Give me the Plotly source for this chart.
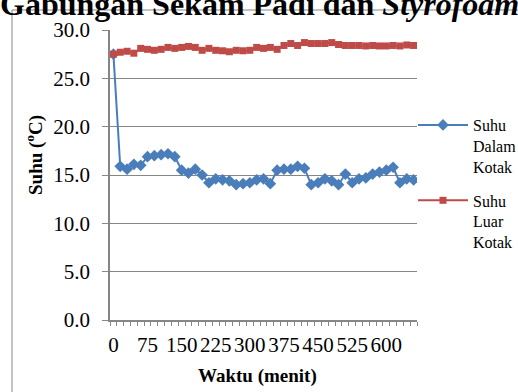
import plotly.graph_objects as go

# ---- data ----
waktu = [0, 15, 30, 45, 60, 75, 90, 105, 120, 135, 150, 165, 180, 195, 210,
         225, 240, 255, 270, 285, 300, 315, 330, 345, 360, 375, 390, 405, 420,
         435, 450, 465, 480, 495, 510, 525, 540, 555, 570, 585, 600, 615, 630,
         645, 660]
suhu_dalam = [27.5, 15.9, 15.6, 16.1, 16.0, 16.9, 17.0, 17.1, 17.2, 16.9,
              15.5, 15.2, 15.6, 15.0, 14.2, 14.6, 14.5, 14.4, 14.0, 14.1,
              14.2, 14.5, 14.6, 14.1, 15.5, 15.6, 15.6, 15.9, 15.7, 14.0,
              14.2, 14.6, 14.4, 14.0, 15.1, 14.2, 14.6, 14.7, 15.1, 15.3,
              15.5, 15.8, 14.2, 14.6, 14.5]
suhu_luar = [27.5, 27.7, 27.8, 27.6, 28.1, 28.0, 27.9, 28.0, 28.2, 28.1,
             28.2, 28.3, 28.2, 27.9, 28.1, 27.9, 27.85, 27.75, 27.9, 27.85,
             27.9, 28.2, 28.1, 28.2, 28.0, 28.4, 28.6, 28.4, 28.7, 28.6,
             28.6, 28.6, 28.7, 28.5, 28.4, 28.4, 28.4, 28.35, 28.4, 28.35,
             28.35, 28.4, 28.35, 28.45, 28.4]
x_tick_vals = [0, 75, 150, 225, 300, 375, 450, 525, 600]
y_tick_vals = [0, 5, 10, 15, 20, 25, 30]
nama_dalam = "Suhu<br>Dalam<br>Kotak"
nama_luar = "Suhu<br>Luar<br>Kotak"
judul = "<b>Gabungan Sekam Padi dan <i>Styrofoam</i></b>"
judul_x = "<b>Waktu (menit)</b>"
judul_y = "<b>Suhu (<sup>o</sup>C)</b>"

# ---- layout geometry ----
FONT = "Liberation Serif"
GRAY = "#868686"
W, H = 518, 392
L, R, T, B = 110, 101, 30, 72
pw, ph = W - L - R, H - T - B


def px(x):
    return (x - L) / pw


def py(y):
    return (H - B - y) / ph


step = waktu[1] - waktu[0]
x_range = [waktu[0] - step / 2, waktu[-1] + step / 2]
minor_vals = [waktu[0] - step / 2 + k * step for k in range(len(waktu) + 1)]

fig = go.Figure()
fig.add_trace(go.Scatter(
    x=waktu, y=suhu_dalam, name=nama_dalam, mode="lines+markers",
    legendgroup="a",
    line=dict(color="#4A7EBB", width=2),
    marker=dict(symbol="diamond", size=9, color="#4A7EBB"),
))
fig.add_trace(go.Scatter(
    x=waktu, y=suhu_luar, name=nama_luar, mode="lines+markers",
    legendgroup="b",
    line=dict(color="#BE4B48", width=2),
    marker=dict(symbol="square", size=7, color="#BE4B48"),
))

fig.update_layout(
    width=W, height=H,
    margin=dict(l=L, r=R, t=T, b=B, autoexpand=False),
    paper_bgcolor="white", plot_bgcolor="white",
    font=dict(family=FONT, color="black"),
    showlegend=True,
    legend=dict(
        x=px(413), y=py(108), xanchor="left", yanchor="top",
        font=dict(family=FONT, size=16, color="black"),
        bgcolor="rgba(0,0,0,0)", itemwidth=50, valign="top",
        traceorder="grouped", tracegroupgap=10,
    ),
    xaxis=dict(
        range=x_range, tickmode="array", tickvals=x_tick_vals,
        ticktext=[str(v) for v in x_tick_vals],
        ticks="", showgrid=False, zeroline=False,
        showline=True, linecolor=GRAY, linewidth=1.5,
        tickfont=dict(family=FONT, size=21, color="black"),
        ticklabelstandoff=5,
        minor=dict(tickmode="array", tickvals=minor_vals, ticks="outside",
                   ticklen=4, tickcolor=GRAY, tickwidth=1, showgrid=False),
    ),
    yaxis=dict(
        range=[0, 30], tickmode="array", tickvals=y_tick_vals,
        ticktext=[f"{v:.1f}" for v in y_tick_vals],
        ticks="outside", ticklen=6, tickcolor=GRAY, tickwidth=1,
        showgrid=True, gridcolor=GRAY, gridwidth=1, zeroline=False,
        showline=True, linecolor=GRAY, linewidth=1.5,
        tickfont=dict(family=FONT, size=21, color="black"),
        ticklabelstandoff=8,
    ),
    shapes=[dict(
        type="rect", xref="paper", yref="paper",
        x0=px(12), x1=px(W + 20), y0=py(H + 20), y1=py(10),
        line=dict(color=GRAY, width=1), fillcolor="rgba(0,0,0,0)",
        layer="below",
    )],
    annotations=[
        dict(text=judul, xref="paper", yref="paper", x=px(259), y=py(4),
             xanchor="center", yanchor="middle", showarrow=False,
             font=dict(family=FONT, size=32, color="black")),
        dict(text=judul_x, xref="paper", yref="paper", x=px(257), y=py(376),
             xanchor="center", yanchor="middle", showarrow=False,
             font=dict(family=FONT, size=19, color="black")),
        dict(text=judul_y, xref="paper", yref="paper", x=px(34), y=py(155),
             xanchor="center", yanchor="middle", showarrow=False,
             textangle=-90,
             font=dict(family=FONT, size=19, color="black")),
    ],
)

fig.write_html("out.html")
